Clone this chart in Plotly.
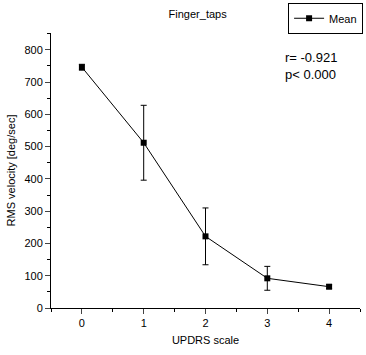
import plotly.graph_objects as go

updrs = [0, 1, 2, 3, 4]
rms_mean = [746, 512, 222, 92, 66]
rms_err = [9, 116, 88, 37, 6]
x_ticks = [0, 1, 2, 3, 4]
y_ticks = [0, 100, 200, 300, 400, 500, 600, 700, 800]

FONT = "Liberation Sans Narrow, Arial Narrow, Liberation Sans, Arial, sans-serif"

fig = go.Figure()
fig.add_trace(go.Scatter(
    x=updrs, y=rms_mean, mode="lines+markers", name="Mean",
    line=dict(color="black", width=1),
    marker=dict(symbol="square", size=6, color="black"),
    error_y=dict(type="data", array=rms_err, color="black", thickness=1, width=3),
))

fig.update_layout(
    width=366, height=355,
    margin=dict(l=51, r=3, t=33, b=47),
    paper_bgcolor="white", plot_bgcolor="white",
    font=dict(family=FONT, size=11, color="black"),
    title=dict(text="Finger_taps", x=0.54, xanchor="center", y=0.96, yanchor="middle",
               font=dict(size=11)),
    showlegend=True,
    legend=dict(x=1.01, y=1.11, xanchor="right", yanchor="top",
                bordercolor="black", borderwidth=1, bgcolor="white",
                font=dict(size=11), itemwidth=30, tracegroupgap=0),
    xaxis=dict(range=[-0.5, 4.5], tickvals=x_ticks, ticks="outside", ticklen=5,
               showline=True, linecolor="black", linewidth=1, mirror=False,
               showgrid=False, zeroline=False, tickfont=dict(size=11), automargin=False,
               minor=dict(dtick=0.5, tick0=0.5, ticks="outside", ticklen=3, tickcolor="black"),
               title=dict(text="UPDRS scale", font=dict(size=11), standoff=8)),
    yaxis=dict(range=[0, 852], tickvals=y_ticks, ticks="outside", ticklen=5,
               showline=True, linecolor="black", linewidth=1, mirror=False,
               showgrid=False, zeroline=False, tickfont=dict(size=11), automargin=False,
               minor=dict(dtick=50, tick0=50, ticks="outside", ticklen=3, tickcolor="black"),
               title=dict(text="RMS velocity [deg/sec]", font=dict(size=11), standoff=6)),
)

fig.add_annotation(text="r= -0.921<br>p< 0.000", xref="paper", yref="paper",
                   x=0.75, y=0.945, xanchor="left", yanchor="top", showarrow=False,
                   align="left", font=dict(size=13))

fig.write_html("out.html", config={"displayModeBar": False},
               post_script="document.body.style.margin='0';")
